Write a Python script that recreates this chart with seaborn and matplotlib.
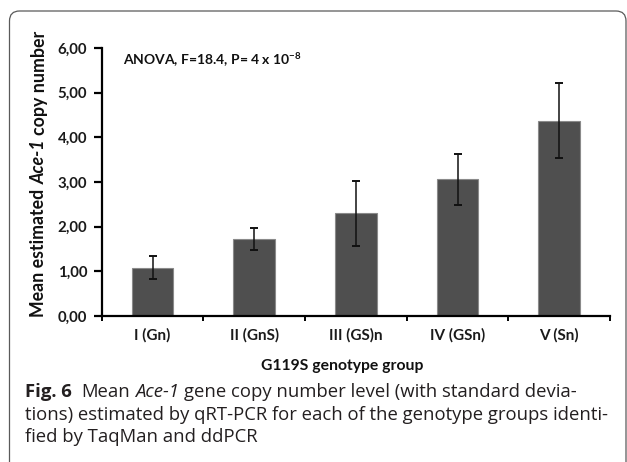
import matplotlib
matplotlib.use("Agg")
import matplotlib.pyplot as plt
import seaborn as sns
import pandas as pd
import numpy as np
from matplotlib.patches import FancyBboxPatch
from matplotlib.font_manager import FontProperties

# ---- data ----
categories = ["I (Gn)", "II (GnS)", "III (GS)n", "IV (GSn)", "V (Sn)"]
means = [1.08, 1.72, 2.30, 3.06, 4.37]
sds = [0.26, 0.24, 0.73, 0.57, 0.84]
yticks = [0, 1, 2, 3, 4, 5, 6]
ytick_labels = ["0,00", "1,00", "2,00", "3,00", "4,00", "5,00", "6,00"]
x_title = "G119S genotype group"
y_title_parts = [("Mean estimated", "normal"), ("Ace-1", "italic"), ("copy number", "normal")]
anova_text = r"ANOVA, F=18.4, P= 4 x 10$^{\mathsf{-8}}$"
caption_line1 = [("Fig. 6", "bold", "normal", 2), ("Mean", "normal", "normal", 1),
                 ("Ace-1", "normal", "italic", 1),
                 ("gene copy number level (with standard devia-", "normal", "normal", 0)]
caption_lines_rest = [
    "tions) estimated by qRT-PCR for each of the genotype groups identi-",
    "fied by TaqMan and ddPCR",
]

sns.set_theme(style="white")
plt.rcParams["font.family"] = ["Lato", "DejaVu Sans"]
plt.rcParams["mathtext.fontset"] = "custom"
plt.rcParams["mathtext.sf"] = "Lato:bold"

W, H = 627, 462
fig = plt.figure(figsize=(W / 100, H / 100), dpi=100)
fig.patch.set_facecolor("white")

ax = fig.add_axes([101.7 / W, 1 - 316 / H, (610 - 101.7) / W, (316 - 47.8) / H])

df = pd.DataFrame({"group": categories, "mean": means, "sd": sds})
sns.barplot(data=df, x="group", y="mean", color="#4f4f4f", saturation=1,
            width=0.41, edgecolor="#8a8a8a", linewidth=0.8, errorbar=None, ax=ax)
xpos = np.arange(len(categories))
ax.errorbar(xpos, df["mean"], yerr=df["sd"], fmt="none", ecolor="#111111",
            elinewidth=1.1, capsize=3.2, capthick=1.4, zorder=5)

ax.set_xlim(-0.5, len(categories) - 0.5)
ax.set_ylim(0, 6)
ax.set_yticks(yticks)
ax.set_yticklabels(ytick_labels, fontsize=10.8, fontweight="bold", color="#1a1a1a")
ax.set_xticks(xpos)
ax.set_xticklabels(categories, fontsize=11, fontweight="bold", color="#1a1a1a")
ax.set_xticks(np.arange(-0.5, len(categories)), minor=True)
ax.tick_params(axis="x", which="major", length=0, pad=8.5)
ax.tick_params(axis="x", which="minor", length=3.5, width=1.4, direction="out",
               color="black", bottom=True)
ax.tick_params(axis="y", which="major", length=5.5, width=1.6, direction="out",
               color="black", pad=5, left=True)
ax.set_xlabel("")
ax.set_ylabel("")
for s in ["top", "right"]:
    ax.spines[s].set_visible(False)
for s in ["left", "bottom"]:
    ax.spines[s].set_color("black")
    ax.spines[s].set_linewidth(1.6)
ax.grid(False)

renderer = fig.canvas.get_renderer()


def text_w(s, fp, rotation=0):
    t = fig.text(0, 0, s, fontproperties=fp, rotation=rotation)
    bb = t.get_window_extent(renderer)
    t.remove()
    return bb.height if rotation == 90 else bb.width


def space_w(fp):
    return text_w("n n", fp) - text_w("nn", fp)


# y title (rotated, composed of segments)
yfs = 12.8
yprops = [FontProperties(family=["Lato", "DejaVu Sans"], weight="bold", style=st, size=yfs)
          for _, st in y_title_parts]
lens = [text_w(t, fp) for (t, _), fp in zip(y_title_parts, yprops)]
sp = space_w(yprops[0])
total = sum(lens) + sp * (len(lens) - 1)
ycur = (H - 174) - total / 2
for (t, _), fp, L in zip(y_title_parts, yprops, lens):
    fig.text(39 / W, ycur / H, t, fontproperties=fp, rotation=90,
             rotation_mode="anchor", ha="left", va="center", color="#111111")
    ycur += L + sp

fig.text(342.5 / W, 1 - 366 / H, x_title, ha="center", va="center",
         fontsize=11.3, fontweight="bold", color="#111111")
fig.text(123 / W, 1 - 60 / H, anova_text, ha="left", va="center",
         fontsize=10, fontweight="bold", color="#111111")

# caption
cfam = ["Open Sans", "DejaVu Sans"]
cfs = 13.3
baselines = [397, 419.5, 442]
xcur = 25.0
for t, wt, st, nsp in caption_line1:
    fp = FontProperties(family=cfam, weight=wt, style=st, size=cfs)
    fig.text(xcur / W, 1 - baselines[0] / H, t, fontproperties=fp,
             ha="left", va="baseline", color="#231f20")
    xcur += text_w(t, fp) + nsp * space_w(FontProperties(family=cfam, size=cfs))
for line, yb in zip(caption_lines_rest, baselines[1:]):
    fig.text(25 / W, 1 - yb / H, line, ha="left", va="baseline",
             fontsize=cfs, family=cfam, color="#231f20")

# rounded frame
frame = FancyBboxPatch((9.5, -30), 626 - 9.5, (H - 11) + 30,
                       boxstyle="round,pad=0,rounding_size=10",
                       transform=None, fill=False, edgecolor="#5a5a5a",
                       linewidth=0.9, zorder=10)
fig.patches.append(frame)

fig.savefig("out.png", dpi=100, facecolor="white")
